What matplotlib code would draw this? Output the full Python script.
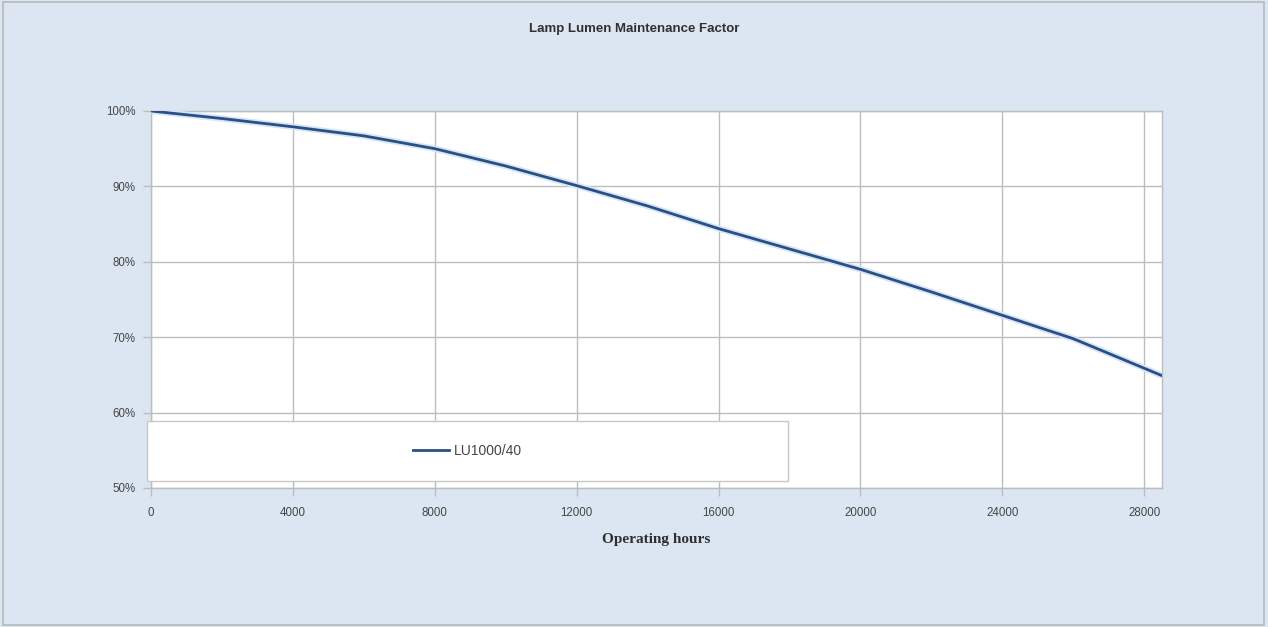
import matplotlib
matplotlib.use("Agg")
import matplotlib.pyplot as plt
from matplotlib.patches import Rectangle
from matplotlib.ticker import FuncFormatter

hours = [0, 2000, 4000, 6000, 8000, 10000, 12000, 14000, 16000,
         18000, 20000, 22000, 24000, 26000, 28500]
lumen = [100, 99.0, 97.9, 96.7, 95.0, 92.7, 90.1, 87.4, 84.4,
         81.7, 79.0, 76.0, 72.9, 69.8, 64.9]
xticks = [0, 4000, 8000, 12000, 16000, 20000, 24000, 28000]
yticks = [50, 60, 70, 80, 90, 100]
series_name = "LU1000/40"

plt.rcParams['font.family'] = ['Liberation Sans', 'DejaVu Sans']
bg = '#dce6f2'

fig = plt.figure(figsize=(12.68, 6.27), dpi=100, facecolor=bg)
fig.patches.append(Rectangle((0.002, 0.003), 0.995, 0.994, transform=fig.transFigure,
                             fill=False, edgecolor='#b8b8b8', linewidth=1.2))

ax = fig.add_axes([0.1191, 0.2217, 0.7973, 0.6013])
ax.set_facecolor('white')
ax.plot(hours, lumen, color='#d3e6f8', linewidth=4.5, solid_capstyle='butt', zorder=3)
line, = ax.plot(hours, lumen, color='#2b4f82', linewidth=2.0, label=series_name, zorder=4)

ax.set_xlim(0, 28500)
ax.set_ylim(50, 100)
ax.set_xticks(xticks)
ax.set_yticks(yticks)
ax.yaxis.set_major_formatter(FuncFormatter(lambda v, p: f"{int(v)}%"))
ax.grid(True, color='#bdbdbd', linewidth=1.0)
ax.set_axisbelow(True)
for s in ax.spines.values():
    s.set_color('#bdbdbd')
    s.set_linewidth(1.0)
ax.tick_params(axis='both', colors='#bdbdbd', labelcolor='#454545', labelsize=8.3, length=6, width=1.0)
ax.tick_params(axis='x', pad=8)
ax.tick_params(axis='y', pad=5)

fig.text(0.5, 0.953, "Lamp Lumen Maintenance Factor", ha='center', va='center',
         fontsize=9.5, fontweight='bold', color='#303030')
ax.set_xlabel("Operating hours", fontsize=11, fontweight='bold', color='#303030',
              family=['Liberation Serif'], labelpad=10)

# legend box sitting over the bottom of the plot area
ax.add_patch(Rectangle((-0.004, 0.0186), 0.634, 0.16, transform=ax.transAxes,
                       facecolor='white', edgecolor='#c8c8c8', linewidth=1.0,
                       zorder=5, clip_on=False))
leg = ax.legend(handles=[line], loc='center', bbox_to_anchor=(0.313, 0.0986),
                frameon=False, fontsize=10, handlelength=2.6, handletextpad=0.3)
leg.set_zorder(6)
for t in leg.get_texts():
    t.set_color('#454545')

fig.savefig("out.png", dpi=100, facecolor=bg)
